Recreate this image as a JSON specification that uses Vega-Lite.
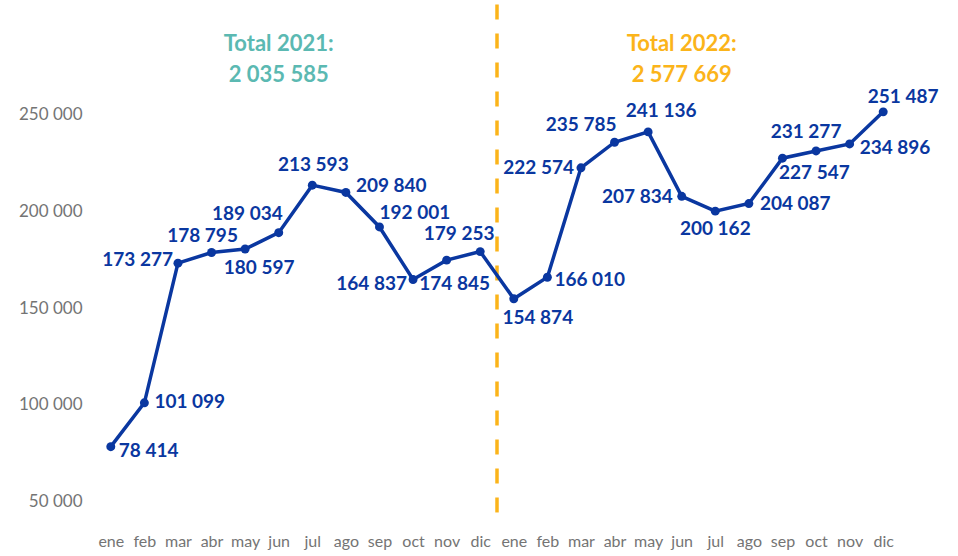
{
  "$schema": "https://vega.github.io/schema/vega-lite/v6.json",
  "width": 806,
  "height": 503,
  "autosize": {"type": "none"},
  "padding": {"left": 94, "top": 18, "right": 58, "bottom": 35},
  "background": "white",
  "config": {
    "view": {"stroke": null},
    "locale": {"number": {"decimal": ",", "thousands": " ", "grouping": [3], "currency": ["", " €"]}},
    "text": {"font": "Lato", "fontSize": 19, "fontWeight": "bold", "color": "#0a37a0", "baseline": "middle"},
    "axis": {"labelFont": "Lato", "labelFontWeight": "normal", "labelColor": "#747474", "labelFontSize": 17, "ticks": false, "domain": false, "grid": false, "title": null, "labelOverlap": false}
  },
  "layer": [
    {
      "data": {"values": [{"sep": 11.5}]},
      "mark": {"type": "rule", "color": "#fbb41a", "strokeWidth": 3.5, "strokeDash": [15, 14]},
      "encoding": {
        "x": {"field": "sep", "type": "quantitative", "scale": {"domain": [-0.5, 23.5], "nice": false, "zero": false},
              "axis": {"values": [0,1,2,3,4,5,6,7,8,9,10,11,12,13,14,15,16,17,18,19,20,21,22,23],
                       "tickCount": 24,
                       "labelExpr": "['ene','feb','mar','abr','may','jun','jul','ago','sep','oct','nov','dic'][datum.value % 12]",
                       "labelPadding": 12, "labelFontSize": 16, "labelOverlap": false, "labelBound": false, "labelFlush": false, "labelSeparation": 0}},
        "y": {"datum": 307000, "type": "quantitative",
              "scale": {"domain": [40000, 300000], "nice": false, "zero": false},
              "axis": {"values": [50000, 100000, 150000, 200000, 250000], "format": ",d", "labelPadding": 12}},
        "y2": {"datum": 40000}
      }
    },
    {
      "data": {"values": [
        {"i": 5, "anio": "2021", "t": ["Total 2021:", "2 035 585"]},
        {"i": 17, "anio": "2022", "t": ["Total 2022:", "2 577 669"]}
      ]},
      "mark": {"type": "text", "fontSize": 22, "lineHeight": 31, "align": "center", "baseline": "middle"},
      "encoding": {
        "x": {"field": "i", "type": "quantitative"},
        "y": {"datum": 286500, "type": "quantitative"},
        "text": {"field": "t"},
        "color": {"field": "anio", "type": "nominal", "scale": {"domain": ["2021", "2022"], "range": ["#5bb9b2", "#fbb41a"]}, "legend": null}
      }
    },
    {
      "data": {"values": [
        {"i": 0, "mes": "ene", "anio": 2021, "v": 78414},
        {"i": 1, "mes": "feb", "anio": 2021, "v": 101099},
        {"i": 2, "mes": "mar", "anio": 2021, "v": 173277},
        {"i": 3, "mes": "abr", "anio": 2021, "v": 178795},
        {"i": 4, "mes": "may", "anio": 2021, "v": 180597},
        {"i": 5, "mes": "jun", "anio": 2021, "v": 189034},
        {"i": 6, "mes": "jul", "anio": 2021, "v": 213593},
        {"i": 7, "mes": "ago", "anio": 2021, "v": 209840},
        {"i": 8, "mes": "sep", "anio": 2021, "v": 192001},
        {"i": 9, "mes": "oct", "anio": 2021, "v": 164837},
        {"i": 10, "mes": "nov", "anio": 2021, "v": 174845},
        {"i": 11, "mes": "dic", "anio": 2021, "v": 179253},
        {"i": 12, "mes": "ene", "anio": 2022, "v": 154874},
        {"i": 13, "mes": "feb", "anio": 2022, "v": 166010},
        {"i": 14, "mes": "mar", "anio": 2022, "v": 222574},
        {"i": 15, "mes": "abr", "anio": 2022, "v": 235785},
        {"i": 16, "mes": "may", "anio": 2022, "v": 241136},
        {"i": 17, "mes": "jun", "anio": 2022, "v": 207834},
        {"i": 18, "mes": "jul", "anio": 2022, "v": 200162},
        {"i": 19, "mes": "ago", "anio": 2022, "v": 204087},
        {"i": 20, "mes": "sep", "anio": 2022, "v": 227547},
        {"i": 21, "mes": "oct", "anio": 2022, "v": 231277},
        {"i": 22, "mes": "nov", "anio": 2022, "v": 234896},
        {"i": 23, "mes": "dic", "anio": 2022, "v": 251487}
      ]},
      "encoding": {
        "x": {"field": "i", "type": "quantitative"},
        "y": {"field": "v", "type": "quantitative"},
        "text": {"field": "v", "type": "quantitative", "format": ",d"}
      },
      "layer": [
        {"mark": {"type": "line", "color": "#0a37a0", "strokeWidth": 3.5}},
        {"mark": {"type": "point", "filled": true, "opacity": 1, "color": "#0a37a0", "size": 80}},
        {"transform": [{"filter": "datum.i == 0"}], "mark": {"type": "text", "align": "left", "dx": 8, "dy": 4}},
        {"transform": [{"filter": "datum.i == 1"}], "mark": {"type": "text", "align": "left", "dx": 10, "dy": -1}},
        {"transform": [{"filter": "datum.i == 2"}], "mark": {"type": "text", "align": "right", "dx": -5, "dy": -3}},
        {"transform": [{"filter": "datum.i == 3"}], "mark": {"type": "text", "align": "center", "dx": -9, "dy": -16}},
        {"transform": [{"filter": "datum.i == 4"}], "mark": {"type": "text", "align": "center", "dx": 14, "dy": 19}},
        {"transform": [{"filter": "datum.i == 5"}], "mark": {"type": "text", "align": "right", "dx": 4, "dy": -19}},
        {"transform": [{"filter": "datum.i == 6"}], "mark": {"type": "text", "align": "center", "dx": 1, "dy": -20}},
        {"transform": [{"filter": "datum.i == 7"}], "mark": {"type": "text", "align": "left", "dx": 10, "dy": -6}},
        {"transform": [{"filter": "datum.i == 8"}], "mark": {"type": "text", "align": "left", "dx": 0, "dy": -14}},
        {"transform": [{"filter": "datum.i == 9"}], "mark": {"type": "text", "align": "right", "dx": -6, "dy": 5}},
        {"transform": [{"filter": "datum.i == 10"}], "mark": {"type": "text", "align": "center", "dx": 8, "dy": 24}},
        {"transform": [{"filter": "datum.i == 11"}], "mark": {"type": "text", "align": "center", "dx": -21, "dy": -18}},
        {"transform": [{"filter": "datum.i == 12"}], "mark": {"type": "text", "align": "center", "dx": 24, "dy": 19}},
        {"transform": [{"filter": "datum.i == 13"}], "mark": {"type": "text", "align": "left", "dx": 7, "dy": 3}},
        {"transform": [{"filter": "datum.i == 14"}], "mark": {"type": "text", "align": "right", "dx": -7, "dy": 0}},
        {"transform": [{"filter": "datum.i == 15"}], "mark": {"type": "text", "align": "right", "dx": 2, "dy": -17}},
        {"transform": [{"filter": "datum.i == 16"}], "mark": {"type": "text", "align": "center", "dx": 13, "dy": -21}},
        {"transform": [{"filter": "datum.i == 17"}], "mark": {"type": "text", "align": "right", "dx": -9, "dy": 1}},
        {"transform": [{"filter": "datum.i == 18"}], "mark": {"type": "text", "align": "center", "dx": 0, "dy": 18}},
        {"transform": [{"filter": "datum.i == 19"}], "mark": {"type": "text", "align": "left", "dx": 11, "dy": 0}},
        {"transform": [{"filter": "datum.i == 20"}], "mark": {"type": "text", "align": "center", "dx": 32, "dy": 15}},
        {"transform": [{"filter": "datum.i == 21"}], "mark": {"type": "text", "align": "center", "dx": -10, "dy": -19}},
        {"transform": [{"filter": "datum.i == 22"}], "mark": {"type": "text", "align": "left", "dx": 10, "dy": 4}},
        {"transform": [{"filter": "datum.i == 23"}], "mark": {"type": "text", "align": "center", "dx": 20, "dy": -15}}
      ]
    }
  ]
}
